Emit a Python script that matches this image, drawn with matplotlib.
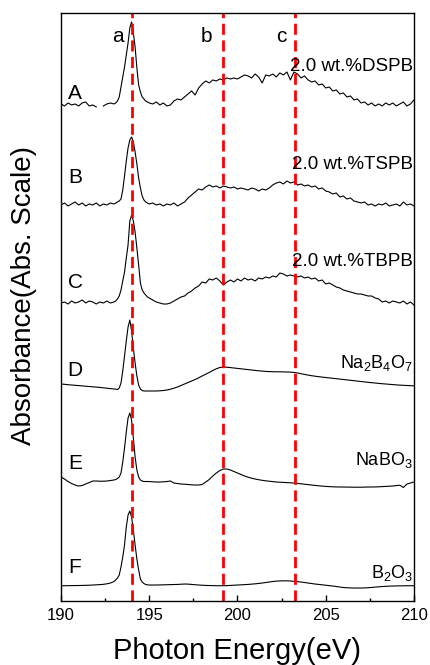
import numpy as np
import matplotlib
matplotlib.use("Agg")
import matplotlib.pyplot as plt
from matplotlib.ticker import MultipleLocator

plt.rcParams['font.family'] = ['Liberation Sans', 'DejaVu Sans']
plt.rcParams['mathtext.fontset'] = 'custom'
plt.rcParams['mathtext.rm'] = 'Liberation Sans'
plt.rcParams['mathtext.default'] = 'regular'

# energia (eV): passo 0.2, mais fino (0.1) perto do pico a
energy = np.round(np.concatenate([np.arange(190.0, 192.9, 0.2),
                                  np.arange(193.0, 194.95, 0.1),
                                  np.arange(195.0, 210.0001, 0.2)]), 1)

# espectros (altura acima da linha de base, unidades arbitrarias)
spec_A = [1, -1, 2, 0, 1, -1, 2, 3, -1, 0, -2, np.nan, -1, 1, 2,
          1, 2, 4, 8, 18, 28, 38, 50, 62, 77, 83, 72, 58, 37, 20, 13, 8, 6, 4, 3,
          2, 1, 3, 0, 2,
          -1, 0, 4, 6, 5, 8, 11, 14, 10, 17,
          21, 24, 22, 25, 24, 26, 25, 27, 26, 27,
          26, 28, 30, 29, 27, 31, 28, 22, 30, 29,
          31, 28, 32, 30, 33, 25, 33, 31, 27, 29,
          25, 23, 24, 20, 21, 17, 18, 14, 15, 11,
          12, 8, 9, 5, 6, 2, 3, 0, 2, -1,
          1, -1, 2, 0, 2, -1, 1, 3, -1, 1,
          5]
spec_B = [1, 3, 0, 2, 4, 1, 3, 0, 2, 1, 3, 0, 2, 1, 3,
          2, 3, 4, 5, 7, 16, 30, 45, 58, 66, 69, 64, 54, 42, 28, 18, 10, 6, 4, 3,
          2, 3, 1, 2, 0,
          2, 1, 3, 0, 2, 4, 8, 11, 14, 17,
          16, 19, 21, 19, 20, 18, 20, 19, 18, 19,
          17, 18, 17, 16, 18, 17, 15, 17, 16, 18,
          21, 23, 24, 22, 25, 23, 24, 21, 22, 20,
          21, 19, 20, 17, 18, 15, 14, 12, 13, 9,
          10, 7, 8, 5, 4, 3, 4, 1, 2, 0,
          2, 1, 3, 0, 1, 2, 0, 4, 1, 2,
          0]
spec_C = [0, 1, -1, 2, 0, 1, 3, 0, 2, 1, -1, 1, 0, 2, 0,
          1, 2, 4, 7, 13, 22, 31, 45, 58, 82, 88, 82, 71, 55, 38, 20, 13, 10, 8, 6,
          5, 3, 1, 0, -1,
          -1, 0, 2, 4, 6, 7, 10, 12, 15, 17,
          21, 20, 24, 23, 25, 22, 18, 21, 23, 21,
          24, 22, 25, 23, 24, 22, 25, 24, 26, 25,
          27, 26, 30, 29, 27, 28, 27, 26, 27, 25,
          26, 24, 25, 22, 23, 19, 20, 18, 16, 15,
          13, 12, 11, 10, 9, 9, 8, 7, 7, 5,
          4, 1, 2, 0, 2, 1, 0, 2, -1, 1,
          -2]
spec_D = [2.0, 1.7, 1.3, 1.0, 0.7, 0.4, 0.1, -0.2, -0.5, -0.8, -1.1, -1.4, -1.8, -2.2, -2.6,
          -3, -3.2, -3.5, -2, 3, 15, 30, 45, 59, 66, 55, 38, 23, 10, 1, -3, -4.5, -5, -5, -5,
          -5, -5, -5, -4.8, -4.5,
          -4, -3.2, -2.2, -1.0, 0.5, 2, 3.5, 5, 6.5, 8.2,
          10, 11.8, 13.5, 15.5, 17.2, 18.5, 19, 18.8, 18.4, 18.0,
          17.6, 17.2, 16.8, 16.4, 16.0, 15.6, 15.2, 14.9, 14.6, 14.4,
          14.3, 14.2, 14.2, 14.1, 14.0, 13.9, 13.6, 13.0, 12.3, 11.6,
          10.9, 10.3, 9.8, 9.3, 8.9, 8.5, 8.1, 7.7, 7.3, 6.9,
          6.5, 6.1, 5.7, 5.3, 4.9, 4.5, 4.1, 3.7, 3.3, 3.0,
          2.6, 2.3, 2.0, 1.7, 1.4, 1.1, 0.9, 0.7, 0.5, 0.3,
          0.2]
spec_E = [3, 1, -1.5, -3.5, -5, -6, -5.5, -4, -2.5, -1, -1, -1.2, -1.2, -1, -0.5,
          0, 0.5, 1.5, 3, 7, 18, 32, 48, 62, 67, 60, 42, 23, 10, 3, 0, -1, -1.5, -1.5, -1.5,
          -1.5, -1.8, -2, -2, -1.8,
          -1.5, -1, -3, -3.5, -4, -4.2, -4.5, -4.8, -5, -5,
          -4.5, -2, 0.5, 4, 7, 9.5, 11, 11, 10, 8.5,
          7, 5.5, 4, 2.8, 1.8, 1, 0.3, -0.3, -0.8, -1.2,
          -1.6, -2, -2.2, -2.4, -2.6, -2.8, -3, -3.4, -3.8, -4.2,
          -4.6, -5, -5.4, -5.8, -6.1, -6.4, -6.6, -6.8, -6.9, -7,
          -7, -7.1, -7.1, -7.2, -7.2, -7.2, -7.1, -7.0, -7.0, -6.9,
          -6.8, -6.6, -6.4, -6.2, -6.0, -5.6, -5.2, -7.5, -4, -3,
          -2]
spec_F = [-0.7, -0.7, -0.6, -0.6, -0.5, -0.5, -0.4, -0.3, -0.2, 0, 0.2, 0.4, 0.7, 1.2, 2,
          3.5, 5, 7, 10, 18, 28, 40, 58, 70, 74, 68, 55, 40, 26, 15, 6, 3, 1.5, 0.5, 0.2,
          0, 0, 0, 0.1, 0.2,
          0.3, 0.4, 0.5, 0.6, 0.8, 1, 0.9, 0.6, 0.3, 0,
          -0.2, -0.4, -0.5, -0.6, -0.7, -0.7, -0.7, -0.6, -0.4, -0.2,
          0, 0.2, 0.4, 0.6, 0.9, 1.2, 1.6, 2.0, 2.5, 3.0,
          3.5, 3.9, 4.1, 4.2, 4.2, 4.0, 3.7, 3.4, 3.0, 2.5,
          2.0, 1.5, 1.0, 0.6, 0.2, -0.2, -0.6, -1.0, -1.5, -2.0,
          -2.5, -2.7, -2.9, -3.0, -3.0, -3.0, -2.9, -2.7, -2.4, -2.1,
          -1.8, -1.5, -1.3, -1.1, -1.0, -0.9, -0.8, -0.8, -0.7, -0.7,
          -0.7]

spectra = [spec_A, spec_B, spec_C, spec_D, spec_E, spec_F]
offsets = [496, 395, 298, 215, 121, 16]
letters = ['A', 'B', 'C', 'D', 'E', 'F']
samples = ['2.0 wt.%DSPB', '2.0 wt.%TSPB', '2.0 wt.%TBPB',
           'Na$_2$B$_4$O$_7$', 'NaBO$_3$', 'B$_2$O$_3$']
sample_size = [13.5, 13.5, 13.5, 13, 13, 13]
letter_y = [507, 423, 318, 231, 138, 34]
sample_y = [534, 436, 339, 238, 141, 28]

peaks = [194.0, 199.2, 203.25]
peak_names = ['a', 'b', 'c']

fig = plt.figure(figsize=(4.31, 6.65), dpi=100)
ax = fig.add_axes([0.1415, 0.0962, 0.819, 0.8843])

for s, off in zip(spectra, offsets):
    ax.plot(energy, np.array(s, dtype=float) + off, color='black', lw=0.8)

for p in peaks:
    ax.axvline(p, color='#ff0000', lw=2, linestyle=(0, (4, 2)))

for lt, ly in zip(letters, letter_y):
    ax.text(190.8, ly, lt, fontsize=15, ha='center', va='center')

for sm, sy, fs in zip(samples, sample_y, sample_size):
    ax.text(209.95, sy, sm, fontsize=fs, ha='right', va='center')

for p, nm in zip([193.2, 198.25, 202.5], peak_names):
    ax.text(p, 564, nm, fontsize=15, ha='center', va='center')

ax.set_xlim(190, 210)
ax.set_ylim(0, 588)
ax.xaxis.set_major_locator(MultipleLocator(5))
ax.xaxis.set_minor_locator(MultipleLocator(2.5))
ax.tick_params(axis='x', which='major', direction='in', length=4, width=1, labelsize=12, pad=5)
ax.tick_params(axis='x', which='minor', direction='in', length=2.5, width=1)
ax.set_yticks([])
for sp in ax.spines.values():
    sp.set_linewidth(1.0)

ax.set_xlabel('Photon Energy(eV)', fontsize=21, labelpad=10)
ax.set_ylabel('Absorbance(Abs. Scale)', fontsize=20)
ax.yaxis.set_label_coords(-0.068, 0.52)

plt.savefig('out.png', dpi=100)
